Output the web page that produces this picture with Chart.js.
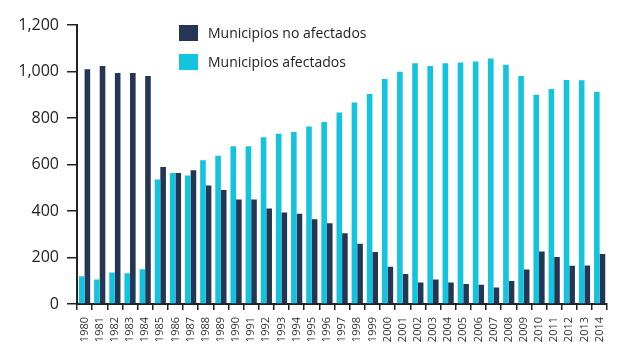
<!DOCTYPE html>
<html>
<head>
<meta charset="utf-8">
<script src="https://cdn.jsdelivr.net/npm/chart.js@4/dist/chart.umd.min.js"></script>
<style>
  body { margin: 0; background: #fff; font-family: "Open Sans", sans-serif; }
  #wrap { position: relative; width: 620px; height: 352px; }
  .legend { position: absolute; left: 179px; top: 18px; font-size: 14px; color: #222; }
  .legend div { display: flex; align-items: center; height: 29px; }
  .legend span.box { display: inline-block; width: 19px; height: 16px; margin-right: 10px; }
</style>
</head>
<body>
<div id="wrap">
  <canvas id="chart" width="620" height="352"></canvas>
  <div class="legend" id="legend"></div>
</div>
<script>
const years = ['1980','1981','1982','1983','1984','1985','1986','1987','1988','1989',
  '1990','1991','1992','1993','1994','1995','1996','1997','1998','1999',
  '2000','2001','2002','2003','2004','2005','2006','2007','2008','2009',
  '2010','2011','2012','2013','2014']

const afectados = [119, 105, 136, 132, 149, 535, 563, 553, 618, 638,
  678, 678, 717, 732, 740, 763, 783, 824, 867, 903,
  968, 999, 1035, 1024, 1035, 1039, 1043, 1056, 1029, 981,
  900, 925, 963, 962, 913]

const noAfectados = [1010, 1024, 994, 994, 981, 589, 563, 575, 510, 490,
  450, 449, 411, 394, 388, 365, 347, 304, 259, 224,
  160, 129, 93, 105, 92, 86, 83, 71, 99, 148,
  226, 202, 165, 166, 215]

const yTicks = [0, 200, 400, 600, 800, 1000, 1200]

const navy = '#243654'
const cyan = '#14c4de'
const axisColor = '#222'

const chart = new Chart(document.getElementById('chart').getContext('2d'), {
  type: 'bar',
  data: {
    labels: years,
    datasets: [
      { label: 'Municipios afectados', data: afectados, backgroundColor: cyan },
      { label: 'Municipios no afectados', data: noAfectados, backgroundColor: navy }
    ]
  },
  options: {
    responsive: false,
    animation: false,
    layout: { padding: { top: 25, right: 12, left: 0, bottom: 0 } },
    datasets: { bar: { categoryPercentage: 0.74, barPercentage: 1 } },
    plugins: { legend: { display: false }, tooltip: { enabled: false } },
    scales: {
      x: {
        offset: true,
        grid: { display: true, offset: true, drawOnChartArea: false, drawTicks: true, tickLength: 6, color: axisColor, lineWidth: 1.5 },
        border: { display: true, color: axisColor, width: 2 },
        ticks: {
          minRotation: 90, maxRotation: 90, autoSkip: false,
          color: '#333', padding: 7,
          font: { family: 'Open Sans', size: 11 }
        },
        afterFit: s => { s.height = 48 }
      },
      y: {
        min: 0, max: 1200,
        afterBuildTicks: s => { s.ticks = yTicks.map(v => ({ value: v })) },
        grid: { display: true, drawOnChartArea: false, drawTicks: true, tickLength: 10, color: axisColor, lineWidth: 1.5 },
        border: { display: true, color: axisColor, width: 2 },
        ticks: {
          color: '#222', padding: 8,
          font: { family: 'Open Sans', size: 16 },
          callback: v => v.toLocaleString('en-US')
        },
        afterFit: s => { s.width = 77 }
      }
    }
  }
})

// legend: navy first, then cyan
const legendEl = document.getElementById('legend')
const order = [1, 0]
order.forEach(i => {
  const ds = chart.data.datasets[i]
  const row = document.createElement('div')
  const box = document.createElement('span')
  box.className = 'box'
  box.style.background = ds.backgroundColor
  row.appendChild(box)
  row.appendChild(document.createTextNode(ds.label))
  legendEl.appendChild(row)
})
</script>
</body>
</html>
